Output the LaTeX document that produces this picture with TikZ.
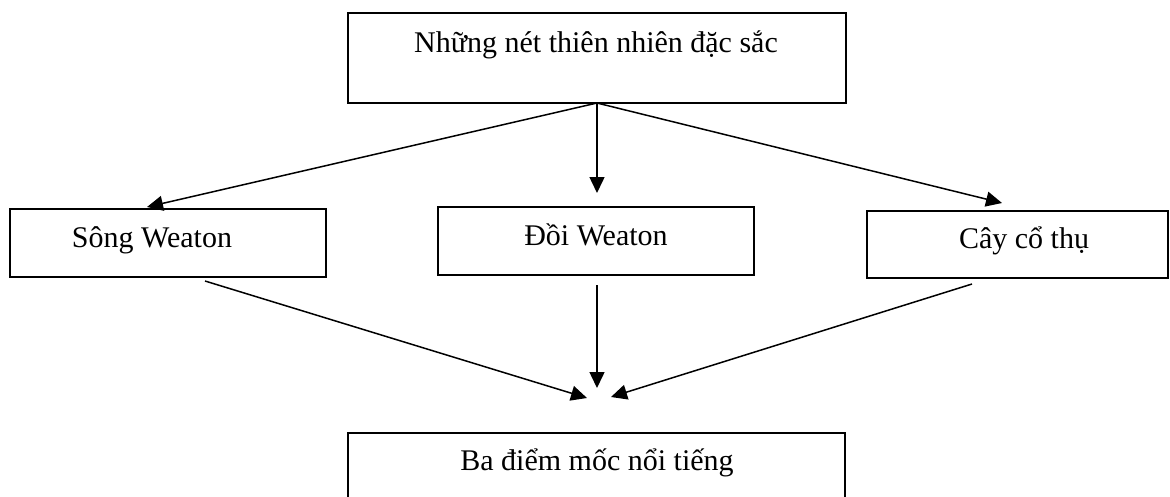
\documentclass[tikz,border=0pt]{standalone}
\usepackage{fontspec}
\setmainfont{Liberation Serif}
\usetikzlibrary{arrows.meta}
\begin{document}
\begin{tikzpicture}[x=1pt,y=-1pt,
  boxstyle/.style={draw=black,line width=1.7pt,inner sep=0pt,outer sep=0pt,anchor=center},
  txt/.style={inner sep=0pt,anchor=base,font=\fontsize{30}{36}\selectfont},
  conn/.style={line width=1.5pt,-{Triangle[length=16pt,width=15pt]}}]
\useasboundingbox (0,0) rectangle (1170,496);
% boxes
\node[boxstyle,minimum width=498pt,minimum height=90pt] (top) at (597,58) {};
\node[boxstyle,minimum width=316pt,minimum height=68pt] (song) at (168,243) {};
\node[boxstyle,minimum width=316pt,minimum height=68pt] (doi) at (596,241) {};
\node[boxstyle,minimum width=301pt,minimum height=67pt] (cay) at (1017.5,244.5) {};
\node[boxstyle,minimum width=497pt,minimum height=90pt] (bot) at (596.5,478) {};
% texts
\node[txt] (ttop) at (596,52) {Những nét thiên nhiên đặc sắc};
\node[txt] (tsong) at (152,247) {Sông Weaton};
\node[txt] (tdoi) at (596,245) {Đồi Weaton};
\node[txt] (tcay) at (1024,248) {Cây cổ thụ};
\node[txt] (tbot) at (597,470) {Ba điểm mốc nổi tiếng};
% coordinates
\coordinate (c1) at (147,207);
\coordinate (c2) at (597,193);
\coordinate (c3) at (1002,203);
\coordinate (s1) at (205,281);
\coordinate (s2) at (597,285);
\coordinate (s3) at (972,284);
\coordinate (e1) at (587,398);
\coordinate (e2) at (597,388);
\coordinate (e3) at (611,397);
% connectors
\draw[conn] (top.south) -- (c1);
\draw[conn] (top.south) -- (c2);
\draw[conn] (top.south) -- (c3);
\draw[conn] (s1) -- (e1);
\draw[conn] (s2) -- (e2);
\draw[conn] (s3) -- (e3);
\end{tikzpicture}
\end{document}
